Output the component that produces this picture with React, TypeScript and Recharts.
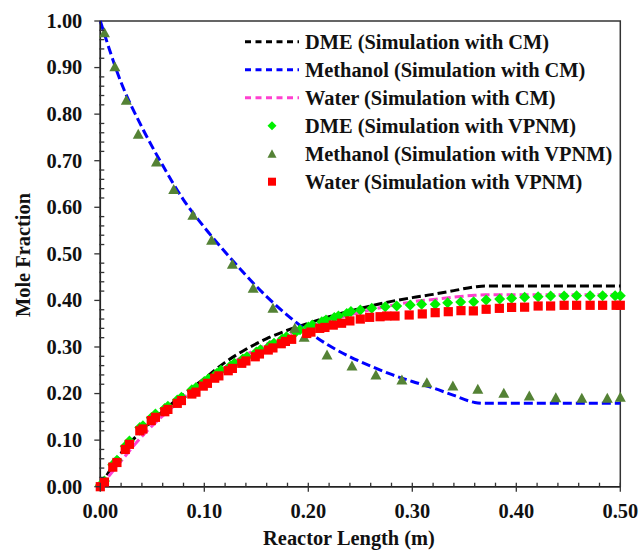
import React from 'react';
import { ComposedChart, Line, Scatter, XAxis, YAxis, ReferenceArea } from 'recharts';

// ---- Data: model curves (CM) ----
const lineX = [0, 0.02, 0.04, 0.06, 0.08, 0.10, 0.12, 0.14, 0.16, 0.18, 0.20, 0.22, 0.24, 0.26, 0.28, 0.30, 0.32, 0.34, 0.36, 0.37, 0.38, 0.40, 0.42, 0.44, 0.46, 0.48, 0.50];
const dmeCM = [0, 0.072, 0.120, 0.162, 0.198, 0.232, 0.267, 0.295, 0.318, 0.336, 0.351, 0.365, 0.377, 0.388, 0.398, 0.406, 0.413, 0.421, 0.429, 0.431, 0.431, 0.431, 0.431, 0.431, 0.431, 0.431, 0.431];
const methanolCM = [1.0, 0.868, 0.772, 0.690, 0.616, 0.557, 0.504, 0.454, 0.408, 0.368, 0.333, 0.303, 0.279, 0.259, 0.241, 0.226, 0.212, 0.196, 0.181, 0.179, 0.179, 0.179, 0.179, 0.179, 0.179, 0.179, 0.179];
const waterCM = [0, 0.055, 0.108, 0.152, 0.190, 0.225, 0.256, 0.283, 0.306, 0.326, 0.343, 0.357, 0.369, 0.380, 0.389, 0.397, 0.402, 0.407, 0.411, 0.412, 0.412, 0.412, 0.412, 0.412, 0.412, 0.412, 0.412];

// ---- Data: VPNM simulation points ----
const dmeVX = [0, 0.004, 0.012, 0.016, 0.024, 0.028, 0.038, 0.041, 0.049, 0.053, 0.062, 0.065, 0.074, 0.078, 0.088, 0.092, 0.100, 0.104, 0.112, 0.116, 0.125, 0.129, 0.137, 0.141, 0.150, 0.154, 0.163, 0.167, 0.175, 0.179, 0.188, 0.192, 0.200, 0.204, 0.213, 0.217, 0.225, 0.229, 0.237, 0.241, 0.250, 0.261, 0.274, 0.285, 0.298, 0.309, 0.322, 0.334, 0.3465, 0.359, 0.371, 0.384, 0.3955, 0.408, 0.421, 0.433, 0.446, 0.458, 0.471, 0.483, 0.495, 0.500];
const dmeVY = [0.003, 0.012, 0.047, 0.057, 0.087, 0.098, 0.127, 0.131, 0.148, 0.156, 0.168, 0.173, 0.186, 0.192, 0.208, 0.213, 0.226, 0.232, 0.243, 0.250, 0.259, 0.265, 0.274, 0.279, 0.289, 0.294, 0.303, 0.308, 0.317, 0.322, 0.332, 0.337, 0.343, 0.347, 0.354, 0.358, 0.3635, 0.3665, 0.372, 0.376, 0.3795, 0.383, 0.3866, 0.388, 0.390, 0.3917, 0.392, 0.395, 0.3966, 0.397, 0.401, 0.403, 0.4045, 0.4067, 0.408, 0.4095, 0.4095, 0.410, 0.410, 0.410, 0.410, 0.410];

const methanolVX = [0.004, 0.014, 0.025, 0.0365, 0.054, 0.0706, 0.089, 0.107, 0.127, 0.147, 0.166, 0.187, 0.196, 0.218, 0.242, 0.265, 0.290, 0.314, 0.339, 0.363, 0.388, 0.4125, 0.438, 0.463, 0.4875, 0.500];
const methanolVY = [0.975, 0.902, 0.830, 0.757, 0.697, 0.638, 0.583, 0.529, 0.4775, 0.426, 0.383, 0.340, 0.321, 0.283, 0.259, 0.240, 0.229, 0.223, 0.216, 0.209, 0.2005, 0.195, 0.191, 0.190, 0.190, 0.192];

const waterVX = [0, 0.004, 0.012, 0.016, 0.024, 0.028, 0.038, 0.041, 0.049, 0.053, 0.062, 0.065, 0.074, 0.078, 0.088, 0.092, 0.099, 0.103, 0.110, 0.114, 0.123, 0.127, 0.136, 0.140, 0.149, 0.153, 0.1615, 0.166, 0.174, 0.178, 0.184, 0.1985, 0.2025, 0.211, 0.216, 0.224, 0.232, 0.240, 0.250, 0.259, 0.269, 0.2754, 0.2834, 0.297, 0.3096, 0.322, 0.3346, 0.3468, 0.3587, 0.371, 0.3837, 0.3955, 0.408, 0.421, 0.433, 0.446, 0.458, 0.471, 0.483, 0.496, 0.500];
const waterVY = [0.0, 0.010, 0.042, 0.052, 0.080, 0.091, 0.120, 0.124, 0.142, 0.149, 0.161, 0.166, 0.179, 0.185, 0.199, 0.203, 0.216, 0.222, 0.233, 0.238, 0.249, 0.254, 0.265, 0.270, 0.279, 0.285, 0.2935, 0.298, 0.307, 0.312, 0.3165, 0.329, 0.332, 0.340, 0.342, 0.347, 0.351, 0.356, 0.360, 0.3637, 0.365, 0.3665, 0.3665, 0.3687, 0.371, 0.3737, 0.3758, 0.378, 0.3775, 0.381, 0.383, 0.385, 0.3855, 0.388, 0.388, 0.3895, 0.3895, 0.3895, 0.3895, 0.3895, 0.3895];

// ---- Axis ticks ----
const xTicks = Array.from({ length: 26 }, (_, i) => Math.round(i * 2) / 100);
const yTicks = Array.from({ length: 51 }, (_, i) => Math.round(i * 2) / 100);

const legendItems = [
  { label: 'DME (Simulation with CM)', kind: 'line', color: '#000000' },
  { label: 'Methanol (Simulation with CM)', kind: 'line', color: '#0000FF' },
  { label: 'Water (Simulation with CM)', kind: 'line', color: '#FF40D0' },
  { label: 'DME (Simulation with VPNM)', kind: 'diamond', color: '#00F000' },
  { label: 'Methanol (Simulation with VPNM)', kind: 'triangle', color: '#548235' },
  { label: 'Water (Simulation with VPNM)', kind: 'square', color: '#FF0000' },
];

const zip = (xs: number[], ys: number[]) => xs.map((x, i) => ({ x, y: ys[i] }));
const dmeLine = zip(lineX, dmeCM);
const methLine = zip(lineX, methanolCM);
const waterLine = zip(lineX, waterCM);
const dmePts = zip(dmeVX, dmeVY);
const methPts = zip(methanolVX, methanolVY);
const waterPts = zip(waterVX, waterVY);

const FONT = '"Liberation Serif", "Times New Roman", serif';
const FS = 20.4;
const DASH = '9 4';

const isMajor = (v: number) => Math.abs(v * 10 - Math.round(v * 10)) < 1e-6;

const YTick = (props: any) => {
  const { x, y, payload } = props;
  const v = payload.value as number;
  const major = isMajor(v);
  return (
    <g>
      {major ? (
        <line x1={x - 6} x2={x} y1={y} y2={y} stroke="#333" strokeWidth={1.3} />
      ) : (
        <line x1={x - 1} x2={x + 4} y1={y} y2={y} stroke="#333" strokeWidth={1.3} />
      )}
      {major && (
        <text x={x - 18} y={y + 6.8} textAnchor="end" fontFamily={FONT} fontWeight="bold" fontSize={FS} fill="#111">
          {v.toFixed(2)}
        </text>
      )}
    </g>
  );
};

const XTick = (props: any) => {
  const { x, y, payload } = props;
  const v = payload.value as number;
  const major = isMajor(v);
  return (
    <g>
      {major ? (
        <line x1={x} x2={x} y1={y - 4} y2={y + 5} stroke="#333" strokeWidth={1.3} />
      ) : (
        <line x1={x} x2={x} y1={y - 4} y2={y} stroke="#333" strokeWidth={1.3} />
      )}
      {major && (
        <text x={x} y={y + 31} textAnchor="middle" fontFamily={FONT} fontWeight="bold" fontSize={FS} fill="#111">
          {v.toFixed(2)}
        </text>
      )}
    </g>
  );
};

const Diamond = (props: any) => {
  const { cx, cy } = props;
  const r = 5.5;
  return <path d={`M${cx},${cy - r}L${cx + r},${cy}L${cx},${cy + r}L${cx - r},${cy}Z`} fill="#00F000" />;
};
const Triangle = (props: any) => {
  const { cx, cy } = props;
  return <path d={`M${cx},${cy - 5.5}L${cx + 5.5},${cy + 4.5}L${cx - 5.5},${cy + 4.5}Z`} fill="#548235" />;
};
const Square = (props: any) => {
  const { cx, cy } = props;
  return <rect x={cx - 4.6} y={cy - 4.6} width={9.2} height={9.2} fill="#FF0000" />;
};

const LegendOverlay = () => {
  const rowY = 41.7;
  const step = 28;
  return (
    <svg width={639} height={553} style={{ position: 'absolute', left: 0, top: 0, pointerEvents: 'none' }}>
      {legendItems.map((it, i) => {
        const cy = rowY + i * step;
        let sym: any = null;
        if (it.kind === 'line') {
          sym = <line x1={245} x2={299} y1={cy} y2={cy} stroke={it.color} strokeWidth={3} strokeDasharray="6 4.5" />;
        } else if (it.kind === 'diamond') {
          sym = <path d={`M272,${cy - 4.5}L276.5,${cy}L272,${cy + 4.5}L267.5,${cy}Z`} fill={it.color} />;
        } else if (it.kind === 'triangle') {
          sym = <path d={`M272,${cy - 4.5}L276.5,${cy + 4}L267.5,${cy + 4}Z`} fill={it.color} />;
        } else {
          sym = <rect x={268} y={cy - 4} width={8} height={8} fill={it.color} />;
        }
        return (
          <g key={it.label}>
            {sym}
            <text x={305} y={cy + 6.8} fontFamily={FONT} fontWeight="bold" fontSize={FS} fill="#111">
              {it.label}
            </text>
          </g>
        );
      })}
    </svg>
  );
};

export default function App() {
  return (
    <div style={{ position: 'absolute', left: 0, top: 0, width: 639, height: 553, background: '#fff' }}>
      <ComposedChart width={639} height={553} margin={{ top: 21, right: 18.7, left: 0, bottom: 0 }}>
        <XAxis
          dataKey="x"
          type="number"
          domain={[0, 0.5]}
          ticks={xTicks}
          interval={0}
          tickSize={0}
          tickMargin={0}
          tickLine={false}
          tick={<XTick />}
          height={66.3}
          axisLine={{ stroke: '#222', strokeWidth: 1.5 }}
        />
        <YAxis
          dataKey="y"
          type="number"
          domain={[0, 1]}
          ticks={yTicks}
          interval={0}
          tickSize={0}
          tickMargin={0}
          tickLine={false}
          tick={<YTick />}
          width={100.3}
          axisLine={{ stroke: '#222', strokeWidth: 1.5 }}
        />
        <ReferenceArea x1={0} x2={0.5} y1={0} y2={1} fill="none" fillOpacity={0} stroke="#333" strokeWidth={1.5} ifOverflow="visible" />
        <Line data={dmeLine} dataKey="y" type="monotone" stroke="#000000" strokeWidth={3} strokeDasharray={DASH} dot={false} isAnimationActive={false} />
        <Line data={methLine} dataKey="y" type="monotone" stroke="#0000FF" strokeWidth={3} strokeDasharray={DASH} dot={false} isAnimationActive={false} />
        <Line data={waterLine} dataKey="y" type="monotone" stroke="#FF40D0" strokeWidth={3} strokeDasharray={DASH} dot={false} isAnimationActive={false} />
        <Scatter data={dmePts} dataKey="y" shape={(p: any) => <Diamond {...p} />} isAnimationActive={false} />
        <Scatter data={methPts} dataKey="y" shape={(p: any) => <Triangle {...p} />} isAnimationActive={false} />
        <Scatter data={waterPts} dataKey="y" shape={(p: any) => <Square {...p} />} isAnimationActive={false} />
      </ComposedChart>
      <svg width={639} height={553} style={{ position: 'absolute', left: 0, top: 0, pointerEvents: 'none' }}>
        <text
          x={0}
          y={0}
          transform="translate(30,255) rotate(-90)"
          textAnchor="middle"
          fontFamily={FONT}
          fontWeight="bold"
          fontSize={FS}
          fill="#111"
        >
          Mole Fraction
        </text>
        <text x={349} y={545} textAnchor="middle" fontFamily={FONT} fontWeight="bold" fontSize={FS} fill="#111">
          Reactor Length (m)
        </text>
      </svg>
      <LegendOverlay />
    </div>
  );
}
